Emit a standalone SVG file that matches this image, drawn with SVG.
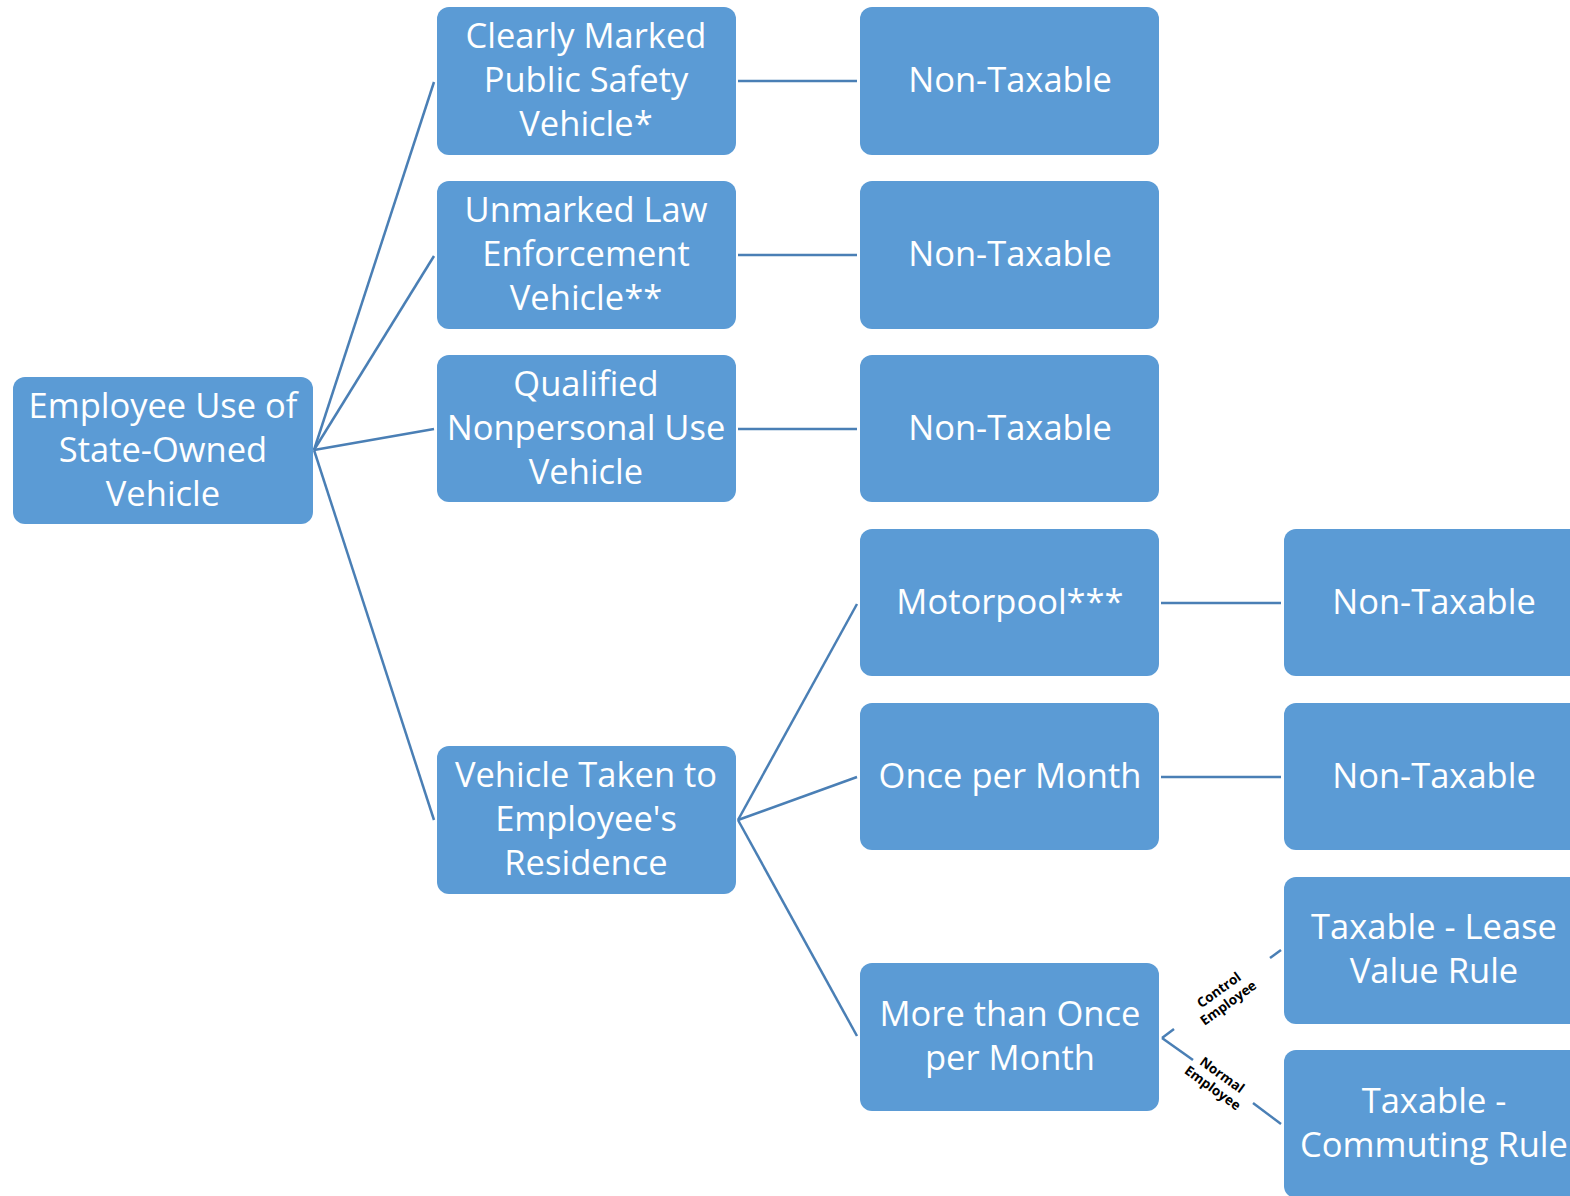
<svg xmlns="http://www.w3.org/2000/svg" width="1570" height="1196" viewBox="0 0 1570 1196">
<style>
.box{fill:#5B9BD5;}
.t{font-family:"Open Sans","Liberation Sans",sans-serif;font-size:34.5px;fill:#FFFFFF;text-anchor:middle;}
.c{stroke:#4A7FB5;stroke-width:2.5;fill:none;}
.l{font-family:"Open Sans","Liberation Sans",sans-serif;font-size:13.5px;font-weight:bold;fill:#000000;text-anchor:middle;}
</style>
<rect width="1570" height="1196" fill="#FFFFFF"/>
<g id="connectors">
<line class="c" x1="314" y1="450" x2="434" y2="82"/>
<line class="c" x1="314" y1="450" x2="434" y2="256"/>
<line class="c" x1="314" y1="450" x2="434" y2="429"/>
<line class="c" x1="314" y1="450" x2="434" y2="820"/>
<line class="c" x1="738" y1="81" x2="857" y2="81"/>
<line class="c" x1="738" y1="255" x2="857" y2="255"/>
<line class="c" x1="738" y1="429" x2="857" y2="429"/>
<line class="c" x1="738" y1="820" x2="857" y2="604"/>
<line class="c" x1="738" y1="820" x2="857" y2="777"/>
<line class="c" x1="738" y1="820" x2="857" y2="1036"/>
<line class="c" x1="1161" y1="603" x2="1281" y2="603"/>
<line class="c" x1="1161" y1="777" x2="1281" y2="777"/>
<line class="c" x1="1162" y1="1038" x2="1174" y2="1029"/>
<line class="c" x1="1270" y1="958" x2="1281" y2="950"/>
<line class="c" x1="1162" y1="1038" x2="1193" y2="1060"/>
<line class="c" x1="1253" y1="1103" x2="1281" y2="1124"/>
<text class="l" transform="translate(1224,997) rotate(-36)"><tspan x="0" y="-4">Control</tspan><tspan x="0" y="12">Employee</tspan></text>
<text class="l" transform="translate(1217,1082) rotate(36)"><tspan x="0" y="-4">Normal</tspan><tspan x="0" y="12">Employee</tspan></text>
</g>
<g id="root">
<rect class="box" x="13" y="377" width="300" height="147" rx="12"/>
<text class="t"><tspan x="163" y="418">Employee Use of</tspan><tspan x="163" y="462">State-Owned</tspan><tspan x="163" y="506">Vehicle</tspan></text>
</g>
<g id="n-marked">
<rect class="box" x="437" y="7" width="299" height="148" rx="12"/>
<text class="t"><tspan x="586" y="48">Clearly Marked</tspan><tspan x="586" y="92">Public Safety</tspan><tspan x="586" y="136">Vehicle*</tspan></text>
</g>
<g id="n-unmarked">
<rect class="box" x="437" y="181" width="299" height="148" rx="12"/>
<text class="t"><tspan x="586" y="222">Unmarked Law</tspan><tspan x="586" y="266">Enforcement</tspan><tspan x="586" y="310">Vehicle**</tspan></text>
</g>
<g id="n-qualified">
<rect class="box" x="437" y="355" width="299" height="147" rx="12"/>
<text class="t"><tspan x="586" y="396">Qualified</tspan><tspan x="586" y="440">Nonpersonal Use</tspan><tspan x="586" y="484">Vehicle</tspan></text>
</g>
<g id="n-residence">
<rect class="box" x="437" y="746" width="299" height="148" rx="12"/>
<text class="t"><tspan x="586" y="787">Vehicle Taken to</tspan><tspan x="586" y="831">Employee's</tspan><tspan x="586" y="875">Residence</tspan></text>
</g>
<g id="n-nt1">
<rect class="box" x="860" y="7" width="299" height="148" rx="12"/>
<text class="t" x="1010" y="92">Non-Taxable</text>
</g>
<g id="n-nt2">
<rect class="box" x="860" y="181" width="299" height="148" rx="12"/>
<text class="t" x="1010" y="266">Non-Taxable</text>
</g>
<g id="n-nt3">
<rect class="box" x="860" y="355" width="299" height="147" rx="12"/>
<text class="t" x="1010" y="440">Non-Taxable</text>
</g>
<g id="n-motorpool">
<rect class="box" x="860" y="529" width="299" height="147" rx="12"/>
<text class="t" x="1010" y="614">Motorpool***</text>
</g>
<g id="n-once">
<rect class="box" x="860" y="703" width="299" height="147" rx="12"/>
<text class="t" x="1010" y="788">Once per Month</text>
</g>
<g id="n-more">
<rect class="box" x="860" y="963" width="299" height="148" rx="12"/>
<text class="t"><tspan x="1010" y="1026">More than Once</tspan><tspan x="1010" y="1070">per Month</tspan></text>
</g>
<g id="n-nt4">
<rect class="box" x="1284" y="529" width="299" height="147" rx="12"/>
<text class="t" x="1434" y="614">Non-Taxable</text>
</g>
<g id="n-nt5">
<rect class="box" x="1284" y="703" width="299" height="147" rx="12"/>
<text class="t" x="1434" y="788">Non-Taxable</text>
</g>
<g id="n-lease">
<rect class="box" x="1284" y="877" width="299" height="147" rx="12"/>
<text class="t"><tspan x="1434" y="939">Taxable - Lease</tspan><tspan x="1434" y="983">Value Rule</tspan></text>
</g>
<g id="n-commuting">
<rect class="box" x="1284" y="1050" width="299" height="148" rx="12"/>
<text class="t"><tspan x="1434" y="1113">Taxable -</tspan><tspan x="1434" y="1157">Commuting Rule</tspan></text>
</g>
</svg>
